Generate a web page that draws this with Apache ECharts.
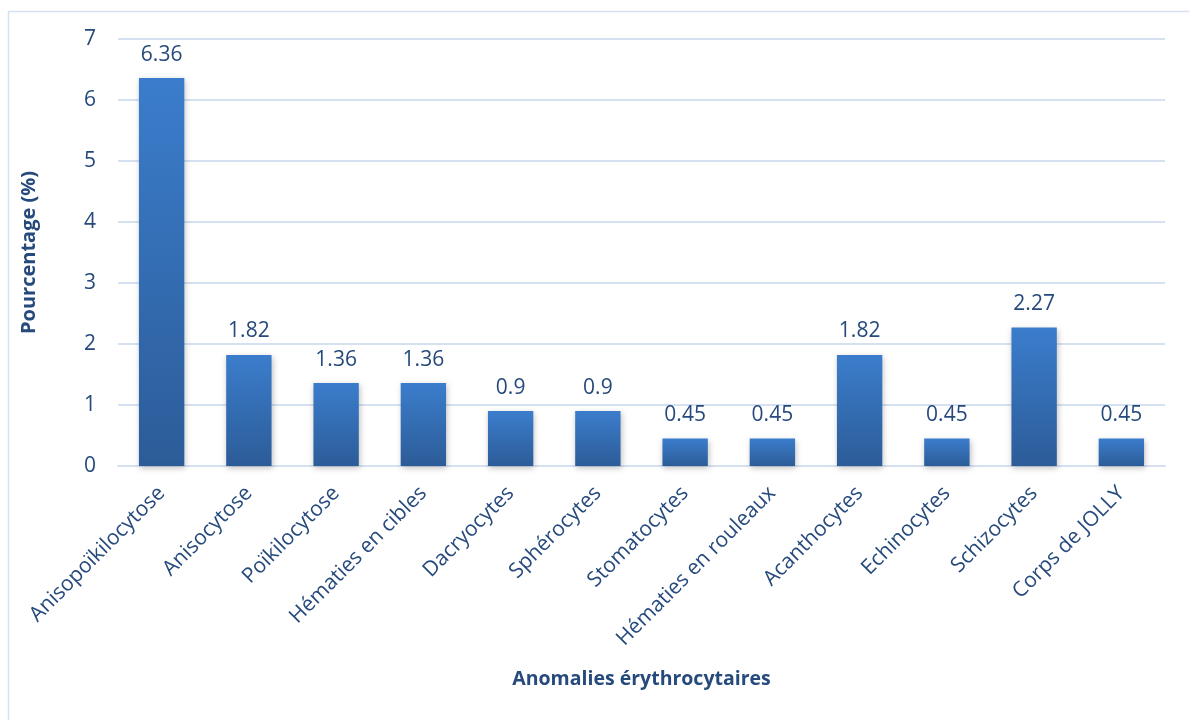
<!DOCTYPE html>
<html>
<head>
<meta charset="utf-8">
<script src="https://cdn.jsdelivr.net/npm/echarts@6/dist/echarts.min.js"></script>
<style>
  html, body { margin: 0; padding: 0; background: #ffffff; }
  #chart { width: 1189px; height: 720px; }
</style>
</head>
<body>
<div id="chart"></div>
<script>
// Red blood cell anomalies (share of smears, %)
const categories = [
  'Anisopoïkilocytose', 'Anisocytose', 'Poïkilocytose', 'Hématies en cibles',
  'Dacryocytes', 'Sphérocytes', 'Stomatocytes', 'Hématies en rouleaux',
  'Acanthocytes', 'Echinocytes', 'Schizocytes', 'Corps de JOLLY'
];
const percentages = [6.36, 1.82, 1.36, 1.36, 0.9, 0.9, 0.45, 0.45, 1.82, 0.45, 2.27, 0.45];
const yTicks = [0, 1, 2, 3, 4, 5, 6, 7];

const textColor = '#264a7c';
const fontFamily = '"Open Sans", "Noto Sans", sans-serif';

const chart = echarts.init(document.getElementById('chart'), null, { renderer: 'canvas' });

chart.setOption({
  backgroundColor: '#ffffff',
  animation: false,
  graphic: [{
    type: 'rect',
    shape: { x: 8.5, y: 11.5, width: 1200, height: 720 },
    style: { fill: 'none', stroke: '#d5e1f1', lineWidth: 1.5 },
    silent: true
  }],
  grid: { left: 118, right: 24, top: 39, bottom: 254, containLabel: false },
  xAxis: {
    type: 'category',
    data: categories,
    axisLine: { show: true, lineStyle: { color: '#d5e1f1', width: 2 } },
    axisTick: { show: false },
    axisLabel: {
      rotate: 45,
      interval: 0,
      margin: 24,
      color: textColor,
      fontSize: 21,
      fontFamily: fontFamily
    },
    name: 'Anomalies érythrocytaires',
    nameLocation: 'middle',
    nameGap: 203,
    nameTextStyle: { color: textColor, fontSize: 19.5, fontWeight: 'bold', fontFamily: fontFamily }
  },
  yAxis: {
    type: 'value',
    min: yTicks[0],
    max: yTicks[yTicks.length - 1],
    interval: 1,
    axisLine: { show: false },
    axisTick: { show: false },
    splitLine: { lineStyle: { color: '#d5e1f1', width: 2 } },
    axisLabel: { color: textColor, fontSize: 21, fontFamily: fontFamily, margin: 22 },
    name: 'Pourcentage (%)',
    nameLocation: 'middle',
    nameGap: 79,
    nameRotate: 90,
    nameTextStyle: { color: textColor, fontSize: 20, fontWeight: 'bold', fontFamily: fontFamily }
  },
  series: [{
    type: 'bar',
    data: percentages,
    barWidth: '52%',
    itemStyle: {
      color: new echarts.graphic.LinearGradient(0, 0, 0, 1, [
        { offset: 0, color: '#3b7dcc' },
        { offset: 1, color: '#2c5c98' }
      ]),
      shadowColor: 'rgba(0,0,0,0.25)',
      shadowBlur: 6,
      shadowOffsetX: 1,
      shadowOffsetY: 2
    },
    label: {
      show: true,
      position: 'top',
      distance: 13,
      color: textColor,
      fontSize: 21,
      fontFamily: fontFamily
    }
  }]
});
</script>
</body>
</html>
